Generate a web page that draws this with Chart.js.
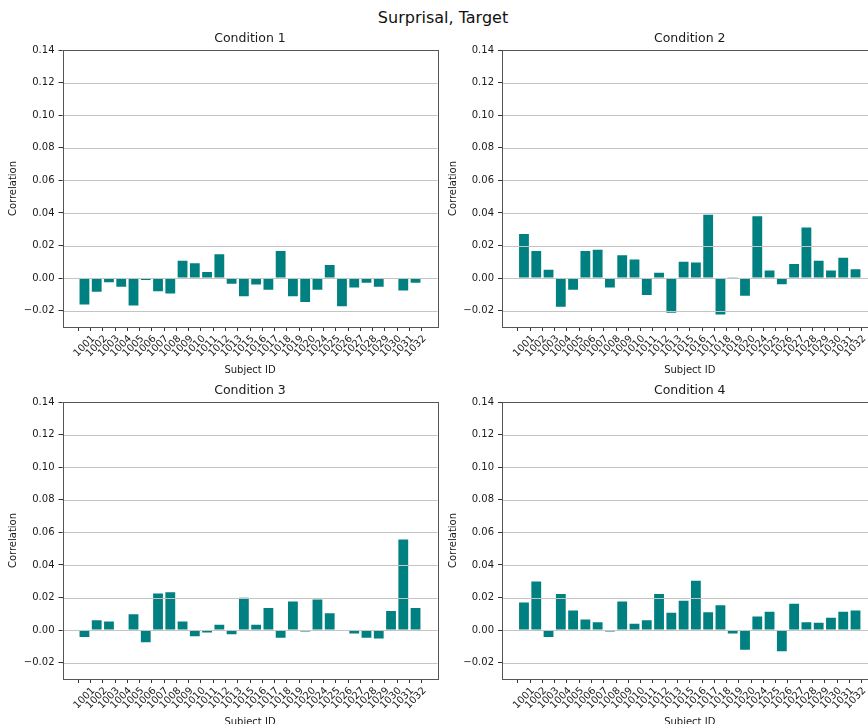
<!DOCTYPE html>
<html>
<head>
<meta charset="utf-8">
<title>Surprisal, Target</title>
<script src="https://cdn.jsdelivr.net/npm/chart.js@4.4.1/dist/chart.umd.min.js"></script>
<style>
  html, body { margin: 0; padding: 0; background: #fff; overflow: hidden; }
  #wrap { position: relative; width: 868px; height: 724px; overflow: hidden; background: #fff; }
  #sup { position: absolute; left: 0; top: 8px; width: 886px; text-align: center;
         font: 16px 'DejaVu Sans', sans-serif; line-height: 20px; color: #111; }
  canvas { position: absolute; }
</style>
</head>
<body>
<div id="wrap">
  <div id="sup">Surprisal, Target</div>
  <canvas id="c1" width="445" height="351" style="left:0px;top:26px"></canvas>
  <canvas id="c2" width="445" height="351" style="left:440px;top:26px"></canvas>
  <canvas id="c3" width="445" height="351" style="left:0px;top:378px"></canvas>
  <canvas id="c4" width="445" height="351" style="left:440px;top:378px"></canvas>
</div>
<script>
// Subjects on the x axis
const subjectIds = ['1001','1002','1003','1004','1005','1006','1007','1008','1009','1010',
                    '1011','1012','1013','1015','1016','1017','1018','1019','1020','1024',
                    '1025','1026','1027','1028','1029','1030','1031','1032'];

// Per-subject correlation for each condition
const condition1 = [-0.0162,-0.0084,-0.0025,-0.0053,-0.0168,-0.0012,-0.0080,-0.0094, 0.0106, 0.0092,
                     0.0037, 0.0147,-0.0035,-0.0112,-0.0039,-0.0072, 0.0166,-0.0112,-0.0147,-0.0072,
                     0.0080,-0.0172,-0.0057,-0.0029,-0.0053, 0.0000,-0.0076,-0.0029];
const condition2 = [ 0.0270, 0.0166, 0.0051,-0.0176,-0.0072, 0.0166, 0.0174,-0.0057, 0.0141, 0.0115,
                    -0.0104, 0.0033,-0.0213, 0.0100, 0.0096, 0.0389,-0.0223, 0.0006,-0.0108, 0.0380,
                     0.0047,-0.0037, 0.0086, 0.0311, 0.0106, 0.0047, 0.0125, 0.0055];
const condition3 = [-0.0043, 0.0061, 0.0053, 0.0000, 0.0098,-0.0074, 0.0225, 0.0233, 0.0053,-0.0037,
                    -0.0014, 0.0033,-0.0025, 0.0198, 0.0033, 0.0135,-0.0047, 0.0176,-0.0008, 0.0188,
                     0.0104, 0.0000,-0.0020,-0.0047,-0.0051, 0.0117, 0.0556, 0.0135];
const condition4 = [ 0.0170, 0.0299,-0.0043, 0.0221, 0.0121, 0.0065, 0.0049,-0.0008, 0.0176, 0.0039,
                     0.0061, 0.0221, 0.0106, 0.0180, 0.0303, 0.0110, 0.0153,-0.0020,-0.0121, 0.0084,
                     0.0112,-0.0129, 0.0162, 0.0049, 0.0045, 0.0076, 0.0112, 0.0121];

// Y axis ticks and limits
const yTicks = [-0.02, 0.00, 0.02, 0.04, 0.06, 0.08, 0.10, 0.12, 0.14];
const Y_MIN = -0.03, Y_MAX = 0.14;

// Bar index range with 5% margins around the bars (width 0.8)
const X_MIN = -1.79, X_MAX = 28.79;

const BAR = '#008080';
const GRID = '#c4c4c4';
const SPINE = '#555555';
const INK = '#1a1a1a';
const FONT = "'DejaVu Sans', sans-serif";

Chart.defaults.font.family = FONT;
Chart.defaults.color = INK;

// Horizontal grid on top of the bars, the four-sided axes frame,
// and the panel title centred over the plotting area
const gridAndFrame = {
  id: 'gridAndFrame',
  afterDatasetsDraw(chart, args, opts) {
    const { ctx, chartArea: a, scales: { y } } = chart;
    ctx.save();
    ctx.lineWidth = 1;
    ctx.strokeStyle = GRID;
    yTicks.forEach(v => {
      const py = Math.round(y.getPixelForValue(v)) + 0.5;
      ctx.beginPath();
      ctx.moveTo(a.left, py);
      ctx.lineTo(a.right, py);
      ctx.stroke();
    });
    ctx.strokeStyle = SPINE;
    ctx.strokeRect(Math.round(a.left) + 0.5, Math.round(a.top) + 0.5,
                   Math.round(a.right - a.left), Math.round(a.bottom - a.top));
    ctx.fillStyle = INK;
    ctx.font = '12.5px ' + FONT;
    ctx.textAlign = 'center';
    ctx.textBaseline = 'middle';
    ctx.fillText(opts.text, (a.left + a.right) / 2, a.top - 11);
    ctx.restore();
  }
};

const fmt = v => (v < -1e-9 ? '\u2212' : '') + Math.abs(v).toFixed(2);

function makePanel(canvasId, title, values, yAxisWidth) {
  return new Chart(document.getElementById(canvasId), {
    type: 'bar',
    data: {
      datasets: [{
        data: subjectIds.map((s, i) => ({ x: i, y: values[i] })),
        backgroundColor: BAR,
        borderWidth: 0,
        barPercentage: 0.8,
        categoryPercentage: 1.0
      }]
    },
    options: {
      responsive: false,
      animation: false,
      devicePixelRatio: 1,
      layout: { padding: { top: 24, left: 0, right: 7.5, bottom: 0 } },
      plugins: {
        legend: { display: false },
        tooltip: { enabled: false },
        title: { display: false },
        gridAndFrame: { text: title }
      },
      scales: {
        x: {
          type: 'linear', min: X_MIN, max: X_MAX, offset: false,
          afterBuildTicks: s => { s.ticks = subjectIds.map((_, i) => ({ value: i })); },
          afterFit: s => { s.height = 50; s.paddingLeft = 0; s.paddingRight = 0; },
          ticks: {
            autoSkip: false, minRotation: 45, maxRotation: 45,
            labelOffset: 9, padding: 2, color: INK, font: { size: 10 },
            callback: v => subjectIds[Math.round(v)]
          },
          grid: { drawOnChartArea: false, drawTicks: true, tickLength: 4, tickColor: '#333' },
          border: { display: false },
          title: {
            display: true, text: 'Subject ID', color: INK,
            font: { size: 10 }, padding: { top: 0, bottom: 1 }
          }
        },
        y: {
          min: Y_MIN, max: Y_MAX,
          afterBuildTicks: s => { s.ticks = yTicks.map(v => ({ value: v })); },
          afterFit: s => { s.width = yAxisWidth; s.paddingTop = 0; s.paddingBottom = 0; },
          ticks: { padding: 4, color: INK, font: { size: 10 }, callback: v => fmt(v) },
          grid: { drawOnChartArea: false, drawTicks: true, tickLength: 4, tickColor: '#333' },
          border: { display: false },
          title: {
            display: true, text: 'Correlation', color: INK,
            font: { size: 10 }, padding: { top: 7, bottom: 0 }
          }
        }
      }
    },
    plugins: [gridAndFrame]
  });
}

makePanel('c1', 'Condition 1', condition1, 62.5);
makePanel('c2', 'Condition 2', condition2, 62);
makePanel('c3', 'Condition 3', condition3, 62.5);
makePanel('c4', 'Condition 4', condition4, 62);
</script>
</body>
</html>
